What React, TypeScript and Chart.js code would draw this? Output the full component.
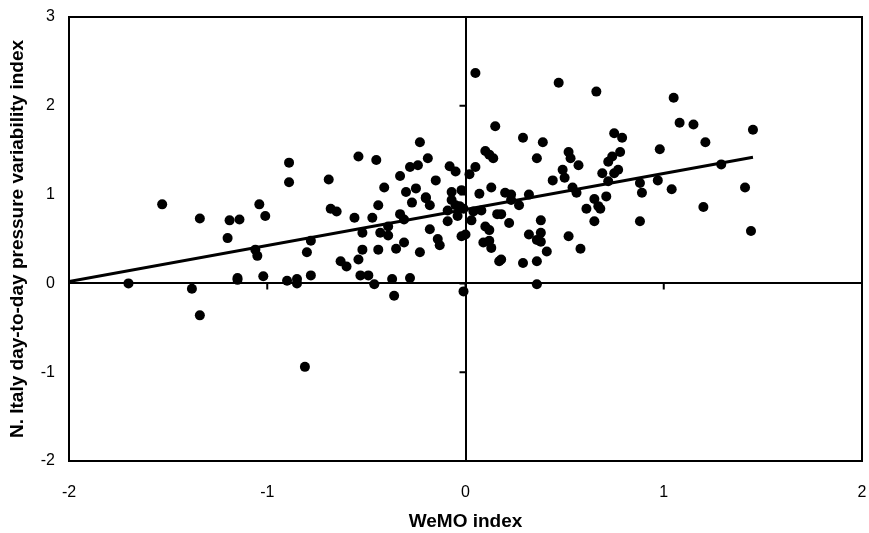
import React, { useEffect, useRef } from "react";
import { Chart, registerables } from "chart.js";

Chart.register(...registerables);

const wemoX: number[] = [
  -1.70, -1.53, -1.38, -1.34, -1.34, -1.20, -1.19, -1.14, -1.15, -1.15,
  -1.04, -1.01, -1.06, -1.05, -1.02, -0.89, -0.89, -0.90, -0.85, -0.85,
  -0.81, -0.78, -0.80, -0.78, -0.69, -0.68, -0.65, -0.56, -0.63, -0.60,
  -0.54, -0.45, -0.53, -0.49, -0.46, -0.37, -0.36, -0.28, -0.23, -0.19,
  -0.28, -0.24, -0.33, -0.41, -0.30, -0.25, -0.20, -0.15, -0.08, -0.05,
  -0.07, -0.02, 0.02, 0.05, 0.07, 0.05, 0.10, 0.12, 0.14, 0.13,
  0.15, 0.20, 0.23, 0.32, 0.29, 0.36, 0.39, 0.44, 0.47, 0.49,
  0.50, 0.52, 0.53, 0.57, 0.54, 0.56, 0.66, 0.69, 0.72, 0.74,
  0.72, 0.75, 0.77, 0.65, 0.71, 0.75, 0.79, 0.78, -0.20, -0.18,
  -0.27, -0.44, -0.47, -0.33, -0.31, -0.39, -0.52, -0.43, -0.39, -0.18,
  -0.14, -0.13, -0.31, -0.35, -0.44, -0.52, -0.54, -0.23, -0.07, -0.05,
  -0.09, -0.04, -0.09, -0.03, -0.01, -0.02, 0.00, -0.01, 0.04, 0.08,
  0.03, 0.16, 0.18, 0.10, 0.12, 0.22, 0.23, 0.27, 0.09, 0.12,
  0.13, 0.17, 0.18, 0.29, 0.32, 0.38, 0.38, 0.36, 0.38, 0.36,
  0.41, 0.36, 0.61, 0.67, 0.68, 0.65, 0.52, 0.58, 1.05, 1.08,
  1.15, 1.45, 1.21, 0.98, 1.29, 0.88, 0.89, 0.97, 1.04, 1.41,
  1.20, 0.88, 1.44,
];

const pressureY: number[] = [
  0.00, 0.89, -0.06, 0.73, -0.36, 0.51, 0.71, 0.72, 0.06, 0.04,
  0.89, 0.76, 0.38, 0.31, 0.08, 1.36, 1.14, 0.03, 0.05, 0.00,
  -0.94, 0.09, 0.35, 0.48, 1.17, 0.84, 0.81, 0.74, 0.25, 0.19,
  1.43, 1.39, 0.09, 0.09, -0.01, 0.05, -0.14, 0.06, 1.59, 1.41,
  1.31, 1.33, 1.21, 1.08, 1.03, 1.07, 0.97, 1.16, 1.32, 1.26,
  1.03, 1.05, 1.23, 1.31, 1.01, 2.37, 1.49, 1.45, 1.41, 1.08,
  1.77, 1.02, 1.00, 1.00, 1.64, 1.41, 1.59, 1.16, 2.26, 1.28,
  1.19, 1.48, 1.41, 1.33, 1.08, 1.02, 2.16, 1.24, 1.37, 1.43,
  1.15, 1.24, 1.28, 0.95, 0.98, 1.69, 1.64, 1.48, 0.96, 0.88,
  0.91, 0.88, 0.74, 0.78, 0.72, 0.64, 0.57, 0.57, 0.54, 0.61,
  0.50, 0.43, 0.46, 0.39, 0.38, 0.38, 0.27, 0.35, 0.94, 0.88,
  0.82, 0.76, 0.70, 0.87, 0.84, 0.53, 0.55, -0.09, 0.81, 0.82,
  0.71, 0.78, 0.78, 0.64, 0.60, 0.68, 0.94, 0.88, 0.46, 0.48,
  0.40, 0.25, 0.27, 0.23, 0.55, 0.71, 0.57, 0.49, 0.47, 0.25,
  0.36, -0.01, 0.84, 0.87, 0.84, 0.70, 0.53, 0.39, 2.09, 1.81,
  1.79, 1.73, 1.59, 1.51, 1.34, 1.13, 1.02, 1.16, 1.06, 1.08,
  0.86, 0.70, 0.59,
];

const trendX: number[] = [-2.0, 1.45];
const trendY: number[] = [0.02, 1.42];

const xTicks: number[] = [-2, -1, 0, 1, 2];
const yTicks: number[] = [-2, -1, 0, 1, 2, 3];

const xTitle = "WeMO index";
const yTitle = "N. Italy day-to-day pressure variability index";

const FONT = "'Liberation Sans', Arial, sans-serif";

const frameAndTicks = {
  id: "frameAndTicks",
  beforeDatasetsDraw(chart: any) {
    const { ctx, chartArea, scales } = chart;
    const xs = scales.x;
    const ys = scales.y;
    const x0 = xs.getPixelForValue(0);
    const y0 = ys.getPixelForValue(0);
    ctx.save();
    ctx.strokeStyle = "#000";
    ctx.lineWidth = 2;
    ctx.beginPath();
    for (const v of xTicks) {
      const px = xs.getPixelForValue(v);
      ctx.moveTo(px, y0);
      ctx.lineTo(px, y0 + 6);
    }
    for (const v of yTicks) {
      const py = ys.getPixelForValue(v);
      ctx.moveTo(x0, py);
      ctx.lineTo(x0 - 6, py);
    }
    ctx.stroke();
    ctx.lineWidth = 2;
    ctx.strokeRect(
      chartArea.left,
      chartArea.top,
      chartArea.right - chartArea.left,
      chartArea.bottom - chartArea.top
    );
    ctx.restore();
  },
};

export default function App() {
  const ref = useRef<HTMLCanvasElement | null>(null);

  useEffect(() => {
    document.body.style.margin = "0";
    const canvas = ref.current;
    if (!canvas) return;
    const points = wemoX.map((x, i) => ({ x, y: pressureY[i] }));
    const trend = trendX.map((x, i) => ({ x, y: trendY[i] }));
    const zeroColor = (c: any) => (c.tick && c.tick.value === 0 ? "#000" : "rgba(0,0,0,0)");
    const chart = new Chart(canvas, {
      type: "scatter",
      data: {
        datasets: [
          {
            type: "line",
            data: trend,
            borderColor: "#000",
            borderWidth: 3,
            pointRadius: 0,
            fill: false,
          } as any,
          {
            data: points,
            backgroundColor: "#000",
            borderColor: "#000",
            pointRadius: 5,
            pointHoverRadius: 5,
            borderWidth: 0,
          },
        ],
      },
      options: {
        animation: false,
        responsive: true,
        maintainAspectRatio: false,
        layout: { padding: { top: 17, right: 7, left: 0, bottom: 0 } },
        plugins: {
          legend: { display: false },
          tooltip: { enabled: false },
        },
        scales: {
          x: {
            type: "linear",
            min: -2,
            max: 2,
            afterFit: (s: any) => {
              s.height = 72;
              s.paddingLeft = 0;
              s.paddingRight = 0;
            },
            afterBuildTicks: (s: any) => {
              s.ticks = xTicks.map((v) => ({ value: v }));
            },
            ticks: {
              color: "#000",
              font: { family: FONT, size: 16 },
              padding: 22,
              maxRotation: 0,
            },
            grid: {
              color: zeroColor,
              lineWidth: 2,
              drawTicks: false,
            },
            border: { display: false },
            title: {
              display: true,
              text: xTitle,
              color: "#000",
              font: { family: FONT, size: 19, weight: "bold" },
              padding: { top: 0, bottom: 0 },
            },
          },
          y: {
            type: "linear",
            min: -2,
            max: 3,
            afterFit: (s: any) => {
              s.width = 69;
              s.paddingTop = 0;
              s.paddingBottom = 0;
            },
            afterBuildTicks: (s: any) => {
              s.ticks = yTicks.map((v) => ({ value: v }));
            },
            ticks: {
              color: "#000",
              font: { family: FONT, size: 16 },
              padding: 14,
            },
            grid: {
              color: zeroColor,
              lineWidth: 2,
              drawTicks: false,
            },
            border: { display: false },
            title: {
              display: true,
              text: yTitle,
              color: "#000",
              font: { family: FONT, size: 19, weight: "bold" },
              padding: { top: 6, bottom: 0 },
            },
          },
        },
      },
      plugins: [frameAndTicks],
    });
    return () => chart.destroy();
  }, []);

  return (
    <div style={{ position: "relative", width: 869, height: 533 }}>
      <canvas ref={ref} />
    </div>
  );
}
